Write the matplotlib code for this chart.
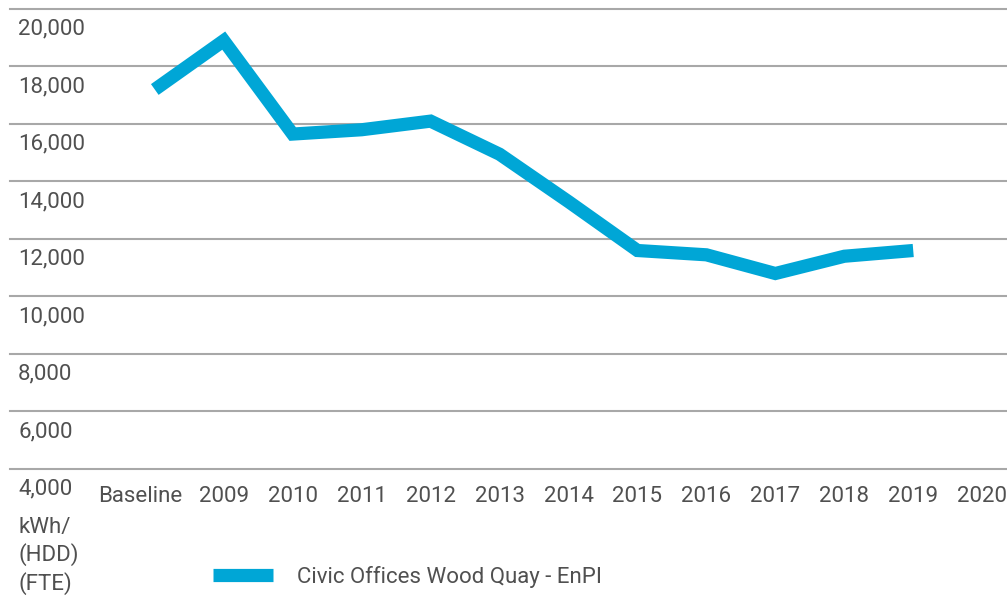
import numpy as np
import matplotlib.pyplot as plt
from matplotlib import transforms

# Data
categories = ['Baseline', '2009', '2010', '2011', '2012', '2013', '2014',
              '2015', '2016', '2017', '2018', '2019', '2020']
enpi = [17200, 18900, 15650, 15800, 16100, 14950, 13300,
        11600, 11450, 10800, 11400, 11600, np.nan]
y_ticks = [4000, 6000, 8000, 10000, 12000, 14000, 16000, 18000, 20000]
series_name = 'Civic Offices Wood Quay - EnPI'
unit_label = 'kWh/\n(HDD)\n(FTE)'

plt.rcParams['font.family'] = ['Roboto', 'DejaVu Sans']
text_color = '#505050'
line_color = '#00a6d6'
fs = 16

fig = plt.figure(figsize=(10.07, 6), dpi=100)
ax = fig.add_axes([10/1007, 1 - 469/600, 1 - 10/1007, 460/600])

x = np.arange(len(categories))
line, = ax.plot(x, enpi, color=line_color, linewidth=9.5, solid_joinstyle='miter',
                solid_capstyle='butt', label=series_name, zorder=3)

ax.set_ylim(4000, 20000)
ax.set_xlim(-2.10, 12.36)

# gridlines
ax.set_yticks(y_ticks)
ax.yaxis.grid(True, color='#a8a8a8', linewidth=1.5)
for gl in ax.get_ygridlines():
    gl.set_clip_on(False)
ax.tick_params(axis='y', left=False, labelleft=False)
for s in ax.spines.values():
    s.set_visible(False)

# y labels sit just under each gridline, inside the plot
trans = transforms.blended_transform_factory(ax.transAxes, ax.transData)
off = transforms.ScaledTranslation(8/100, -20/100, fig.dpi_scale_trans)
for v in y_ticks:
    ax.text(0, v, f'{v:,}', transform=trans + off, ha='left', va='center',
            fontsize=fs, color=text_color)

# x labels
ax.set_xticks(x)
ax.set_xticklabels(categories, fontsize=fs, color=text_color)
ax.tick_params(axis='x', length=0, pad=12)
base_lab = ax.get_xticklabels()[0]
base_lab.set_transform(base_lab.get_transform() +
                       transforms.ScaledTranslation(-15/100, 0, fig.dpi_scale_trans))

# unit label under the axis
fig.text(18/1007, 1 - 517/600, unit_label, ha='left', va='top',
         fontsize=fs, color=text_color, linespacing=1.3)

# legend
leg = fig.legend(handles=[line], loc='center left',
                 bbox_to_anchor=(213/1007, 1 - 577/600),
                 frameon=False, fontsize=fs, handlelength=2.7,
                 handletextpad=1.1, borderpad=0, borderaxespad=0)
for t in leg.get_texts():
    t.set_color(text_color)

fig.savefig('out.png', dpi=100)
